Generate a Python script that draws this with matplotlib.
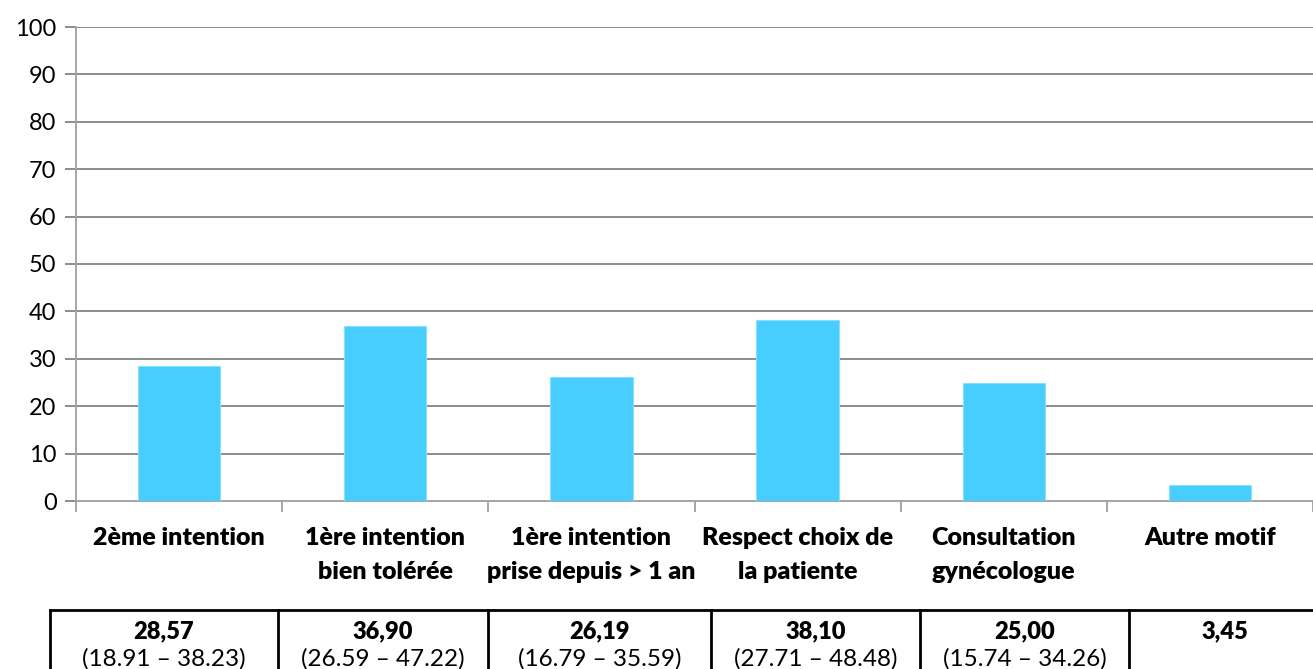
import matplotlib
matplotlib.use("Agg")
import matplotlib.pyplot as plt
from matplotlib.lines import Line2D
import numpy as np

plt.rcParams['font.family'] = ['Lato', 'DejaVu Sans']

# --- data ---
categories = ["2ème intention", "1ère intention\nbien tolérée", "1ère intention\nprise depuis > 1 an",
              "Respect choix de\nla patiente", "Consultation\ngynécologue", "Autre motif"]
values = [28.57, 36.90, 26.19, 38.10, 25.00, 3.45]
value_labels = ["28,57", "36,90", "26,19", "38,10", "25,00", "3,45"]
ci_labels = ["(18.91 – 38.23)", "(26.59 – 47.22)", "(16.79 – 35.59)",
             "(27.71 – 48.48)", "(15.74 – 34.26)", ""]
y_ticks = list(range(0, 101, 10))

W, H = 1313, 669
fig = plt.figure(figsize=(W / 100, H / 100), dpi=100)
ax = fig.add_axes([76 / W, 1 - 501 / H, 1 - 76 / W, (501 - 27) / H])

x = np.arange(len(categories))
ax.bar(x, values, width=0.4, color="#47CEFF", edgecolor="#8ADFFF", linewidth=0.8, zorder=3)

ax.set_xlim(-0.5, len(categories) - 0.5)
ax.set_ylim(0, 100)
ax.set_yticks(y_ticks)
ax.yaxis.grid(True, color="#8C8C8C", linewidth=1.4, zorder=0)
ax.set_axisbelow(True)

for side in ["top", "right"]:
    ax.spines[side].set_visible(False)
for side in ["left", "bottom"]:
    ax.spines[side].set_color("#A6A6A6")
    ax.spines[side].set_linewidth(1.4)

ax.tick_params(axis="y", length=8, width=1.4, color="#8C8C8C", labelsize=17, pad=6)
ax.set_xticks(np.arange(len(categories) + 1) - 0.5)
ax.set_xticklabels([])
ax.tick_params(axis="x", length=8, width=1.4, color="#A6A6A6")
ax.set_xticks(x, minor=True)
ax.set_xticklabels(categories, minor=True, fontweight="heavy", fontsize=18, linespacing=1.65)
ax.tick_params(axis="x", which="minor", length=0, pad=19)

# --- table below the chart ---
tab = fig.add_axes([0, 0, 1, 1], zorder=-1)
tab.set_xlim(0, W)
tab.set_ylim(H, 0)
tab.axis("off")
col_edges = [50, 278, 488, 711, 920, 1129, W + 10]
tab.add_line(Line2D([col_edges[0], W], [610, 610], color="black", lw=2))
for xe in col_edges[:-1]:
    tab.add_line(Line2D([xe, xe], [610, H], color="black", lw=2))
for i in range(len(values)):
    xc = (col_edges[i] + min(col_edges[i + 1], W + 8)) / 2
    tab.text(xc, 631, value_labels[i], ha="center", va="center", fontsize=17, fontweight="heavy")
    tab.text(xc, 659, ci_labels[i], ha="center", va="center", fontsize=17.5)

fig.savefig("out.png", dpi=100)
